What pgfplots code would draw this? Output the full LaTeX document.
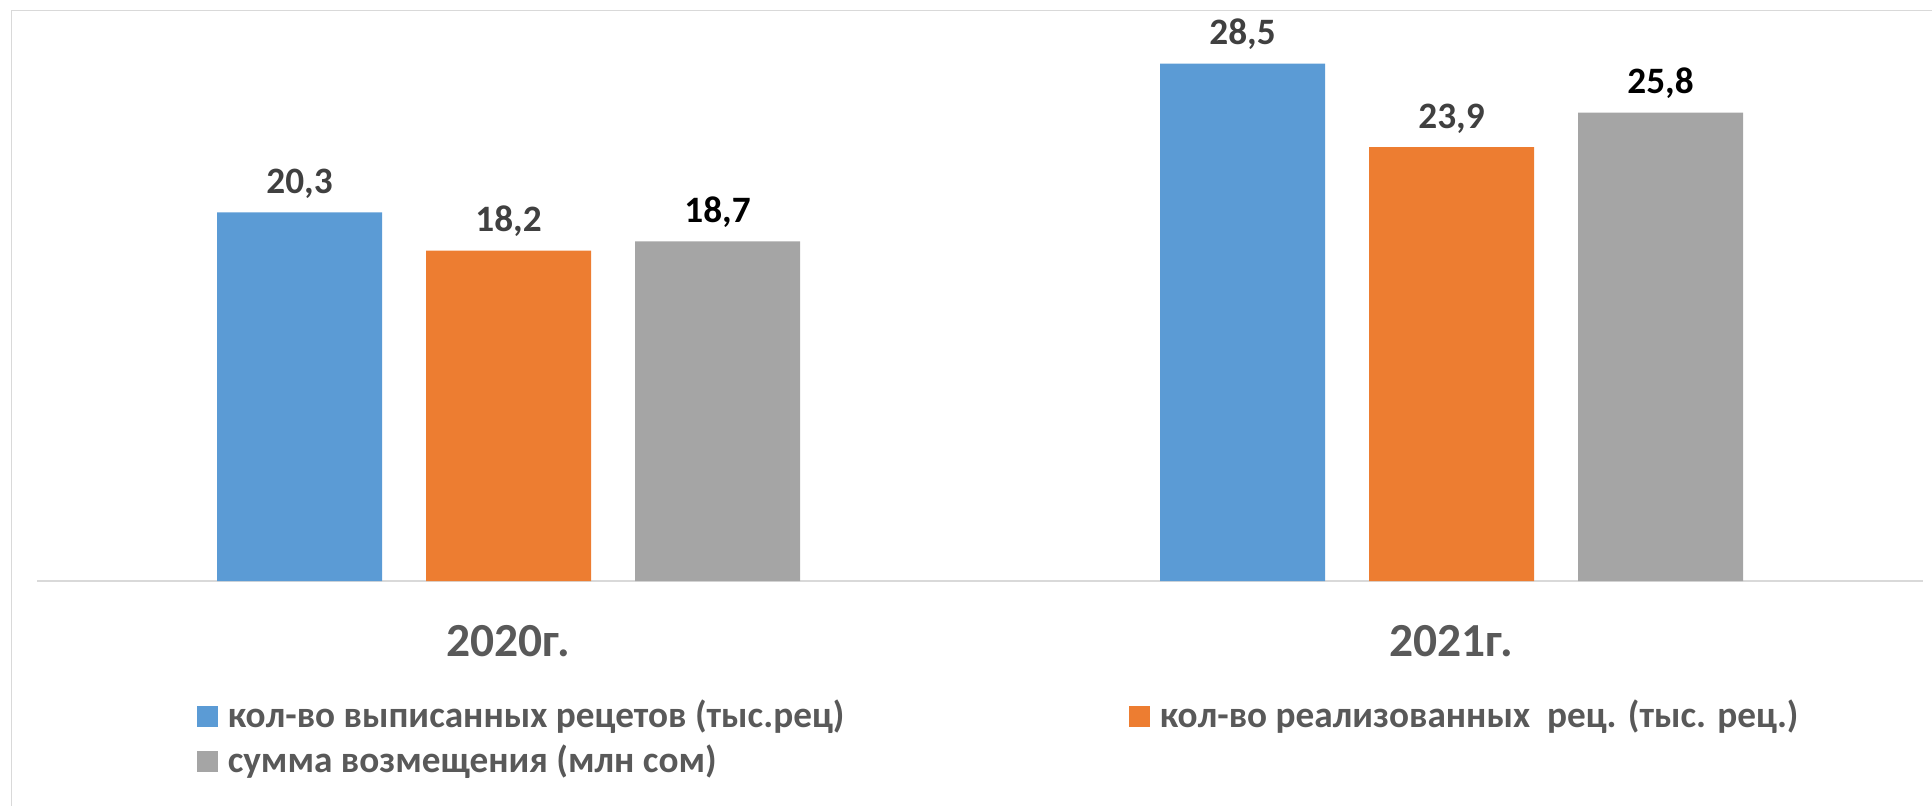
\documentclass[border=0pt]{standalone}
\usepackage{pgfplots}
\pgfplotsset{compat=1.18}
\usepackage{fontspec}
\setmainfont{Carlito}
\definecolor{cblue}{HTML}{5B9BD5}
\definecolor{corange}{HTML}{ED7D31}
\definecolor{cgray}{HTML}{A5A5A5}
\definecolor{txtgray}{HTML}{595959}
\definecolor{lblgray}{HTML}{404040}
\definecolor{bordgray}{HTML}{D9D9D9}
\begin{document}
\begin{tikzpicture}
\path[use as bounding box] (-3.7mm,-22.4mm) rectangle (189.5mm,58.1mm);
\draw[bordgray, line width=0.17mm] (-2.55mm,-23mm) -- (-2.55mm,57.05mm) -- (190mm,57.05mm);
\begin{axis}[
  scale only axis,
  width=188.6mm, height=58.1mm,
  xmin=-0.5, xmax=1.5, ymin=0, ymax=32,
  ybar=4.4mm, bar width=16.5mm,
  axis x line=bottom, axis y line=none,
  axis line style={draw=bordgray, line width=0.2mm, -},
  xtick={0,1}, xticklabels={2020г.,2021г.},
  major tick length=0pt,
  xticklabel style={inner sep=0pt, anchor=north, yshift=-4.4mm, font=\fontsize{13.5pt}{16pt}\selectfont\bfseries, text=txtgray},
  ytick=\empty,
  clip=false,
  nodes near coords,
  /pgf/number format/.cd, use comma, fixed, fixed zerofill, precision=1, assume math mode=true,
  /pgfplots/.cd,
  every node near coord/.append style={anchor=south, inner sep=0pt, text depth=0pt, yshift=1.8mm, font=\fontsize{10.6pt}{12pt}\selectfont\bfseries},
  legend columns=2,
  legend cell align=left,
  legend image code/.code={\fill[#1, draw=none] (0mm,-1.05mm) rectangle (2.1mm,1.05mm);},
  legend style={at={(axis description cs:0.0848,-0.2014)}, anchor=north west, draw=none, fill=none,
    inner sep=0pt, outer sep=0pt, row sep=0.8mm,
    font=\fontsize{10.6pt}{12pt}\selectfont\bfseries, text=txtgray,
    nodes={inner sep=0pt, text height=2.9mm, text depth=0.8mm},
    /tikz/every odd column/.style={column sep=1.0mm},
    /tikz/every even column/.style={column sep=0pt}},
]
\addplot[fill=cblue, draw=none, every node near coord/.append style={text=lblgray}] coordinates {(0,20.3) (1,28.5)};
\addlegendentry{\makebox[90.1mm][l]{кол-во выписанных рецетов (тыс.рец)}}
\addplot[fill=corange, draw=none, every node near coord/.append style={text=lblgray}] coordinates {(0,18.2) (1,23.9)};
\addlegendentry{кол-во реализованных\ \ рец. (тыс. рец.)}
\addplot[fill=cgray, draw=none, every node near coord/.append style={text=black}] coordinates {(0,18.7) (1,25.8)};
\addlegendentry{\makebox[90.1mm][l]{сумма возмещения (млн сом)}}
\end{axis}
\end{tikzpicture}
\end{document}
